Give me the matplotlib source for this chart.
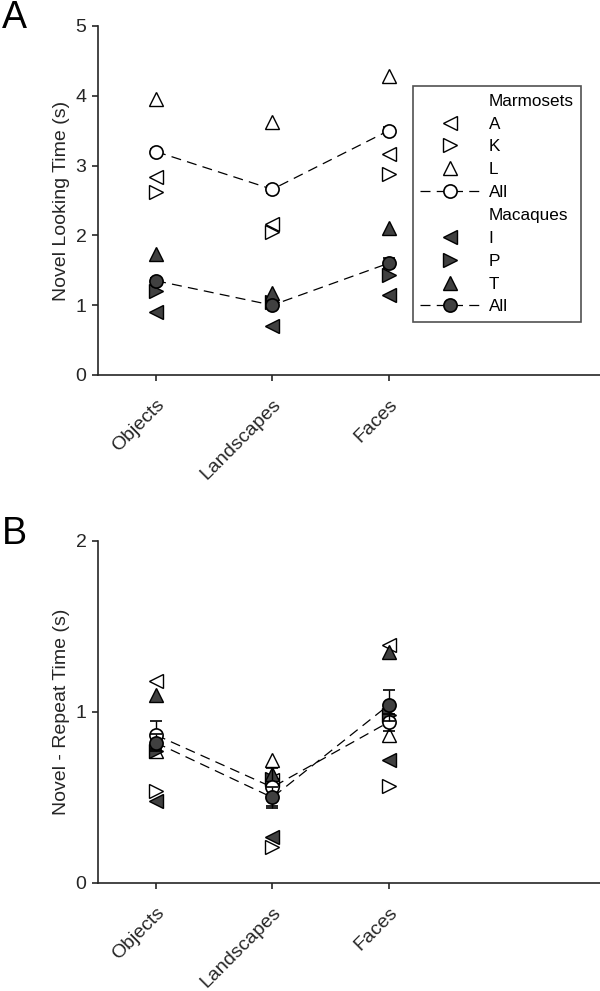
import numpy as np
import matplotlib
matplotlib.use("Agg")
import matplotlib.pyplot as plt
import matplotlib.transforms as mtrans
from matplotlib.lines import Line2D

plt.rcParams['font.family'] = ['Liberation Sans', 'DejaVu Sans']

categories = ['Objects', 'Landscapes', 'Faces']

# panel A: novel looking time (s)
marm_ids = ['A', 'K', 'L']
maca_ids = ['I', 'P', 'T']
novel_marm = {'A': [2.83, 2.16, 3.17], 'K': [2.62, 2.05, 2.88], 'L': [3.95, 3.62, 4.29]}
novel_maca = {'I': [0.90, 0.70, 1.14], 'P': [1.21, 1.05, 1.43], 'T': [1.74, 1.18, 2.10]}
novel_marm_all = [3.20, 2.66, 3.50]
novel_marm_err = [0.04, 0.05, 0.05]
novel_maca_all = [1.35, 1.00, 1.60]
novel_maca_err = [0.04, 0.04, 0.07]

# panel B: novel - repeat time (s)
diff_marm = {'A': [1.18, 0.60, 1.39], 'K': [0.54, 0.21, 0.57], 'L': [0.77, 0.72, 0.865]}
diff_maca = {'I': [0.48, 0.27, 0.72], 'P': [0.77, 0.61, 0.98], 'T': [1.10, 0.64, 1.35]}
diff_marm_all = [0.865, 0.56, 0.94]
diff_marm_err = [0.08, 0.11, 0.05]
diff_maca_all = [0.82, 0.50, 1.04]
diff_maca_err = [0.05, 0.06, 0.09]

markers = {'A': '<', 'K': '>', 'L': '^', 'I': '<', 'P': '>', 'T': '^'}
dark = '#404040'
ink = '#262626'
x = np.arange(1, len(categories) + 1)

fig = plt.figure(figsize=(6, 9.91), dpi=100)
axA = fig.add_axes([0.1633, 0.6216, 0.8367, 0.3522])
axB = fig.add_axes([0.1633, 0.109, 0.8367, 0.3451])

shift = mtrans.ScaledTranslation(10.7 / 72, 0, fig.dpi_scale_trans)


def draw(ax, marm, maca, marm_all, marm_err, maca_all, maca_err):
    for k in marm_ids:
        ax.plot(x, marm[k], ls='none', marker=markers[k], ms=10, mfc='white',
                mec='black', mew=1.0, zorder=3)
    for k in maca_ids:
        ax.plot(x, maca[k], ls='none', marker=markers[k], ms=10, mfc=dark,
                mec='black', mew=1.0, zorder=3)
    ax.errorbar(x, marm_all, yerr=marm_err, fmt='o', ls=(0, (8, 5)), color='black',
                ms=9.5, mfc='white', mec='black', mew=1.2, lw=0.9, capsize=4,
                elinewidth=1, zorder=4)
    ax.errorbar(x, maca_all, yerr=maca_err, fmt='o', ls=(0, (8, 5)), color='black',
                ms=9.5, mfc=dark, mec='black', mew=1.2, lw=0.9, capsize=4,
                elinewidth=1, zorder=5)
    ax.set_xlim(0.5, 4.82)
    ax.set_xticks(x)
    ax.set_xticklabels(categories, rotation=45, ha='right', va='top',
                       rotation_mode='anchor', fontsize=14, color=ink)
    for lab in ax.get_xticklabels():
        lab.set_transform(lab.get_transform() + shift)
    for s in ['top', 'right']:
        ax.spines[s].set_visible(False)
    for s in ['left', 'bottom']:
        ax.spines[s].set_color(ink)
        ax.spines[s].set_linewidth(1.2)
    ax.tick_params(direction='out', length=4.3, width=1.2, colors=ink,
                   labelsize=14)
    ax.tick_params(axis='y', pad=4)
    ax.tick_params(axis='x', pad=11)


draw(axA, novel_marm, novel_maca, novel_marm_all, novel_marm_err,
     novel_maca_all, novel_maca_err)
axA.set_ylim(0, 5)
axA.set_yticks(range(6))
axA.set_ylabel('Novel Looking Time (s)', fontsize=14, color=ink, labelpad=4)

draw(axB, diff_marm, diff_maca, diff_marm_all, diff_marm_err,
     diff_maca_all, diff_maca_err)
axB.set_ylim(0, 2)
axB.set_yticks([0, 1, 2])
axB.set_ylabel('Novel - Repeat Time (s)', fontsize=14, color=ink, labelpad=4)

# legend
blank = Line2D([], [], ls='none', marker='none')
handles = [blank]
labels = ['Marmosets']
for k in marm_ids:
    handles.append(Line2D([], [], ls='none', marker=markers[k], ms=10,
                          mfc='white', mec='black'))
    labels.append(k)
handles.append(Line2D([], [], ls=(0, (8, 5)), color='black', lw=0.9, marker='o',
                      ms=9.5, mfc='white', mec='black', mew=1.2))
labels.append('All')
handles.append(blank)
labels.append('Macaques')
for k in maca_ids:
    handles.append(Line2D([], [], ls='none', marker=markers[k], ms=10,
                          mfc=dark, mec='black'))
    labels.append(k)
handles.append(Line2D([], [], ls=(0, (8, 5)), color='black', lw=0.9, marker='o',
                      ms=9.5, mfc=dark, mec='black', mew=1.2))
labels.append('All')

leg = axA.legend(handles, labels, loc='upper left', bbox_to_anchor=(0.627, 0.828),
                 fontsize=12.3, frameon=True, fancybox=False, handlelength=3.5,
                 labelspacing=0.46, borderpad=0.45, handletextpad=0.5,
                 borderaxespad=0)
leg.get_frame().set_edgecolor(ink)
leg.get_frame().set_linewidth(1.2)
for t in leg.get_texts():
    t.set_color('black')

fig.text(0.003, 1.0, 'A', fontsize=27, va='top', ha='left')
fig.text(0.003, 0.479, 'B', fontsize=27, va='top', ha='left')

fig.savefig('out.png', dpi=100)
